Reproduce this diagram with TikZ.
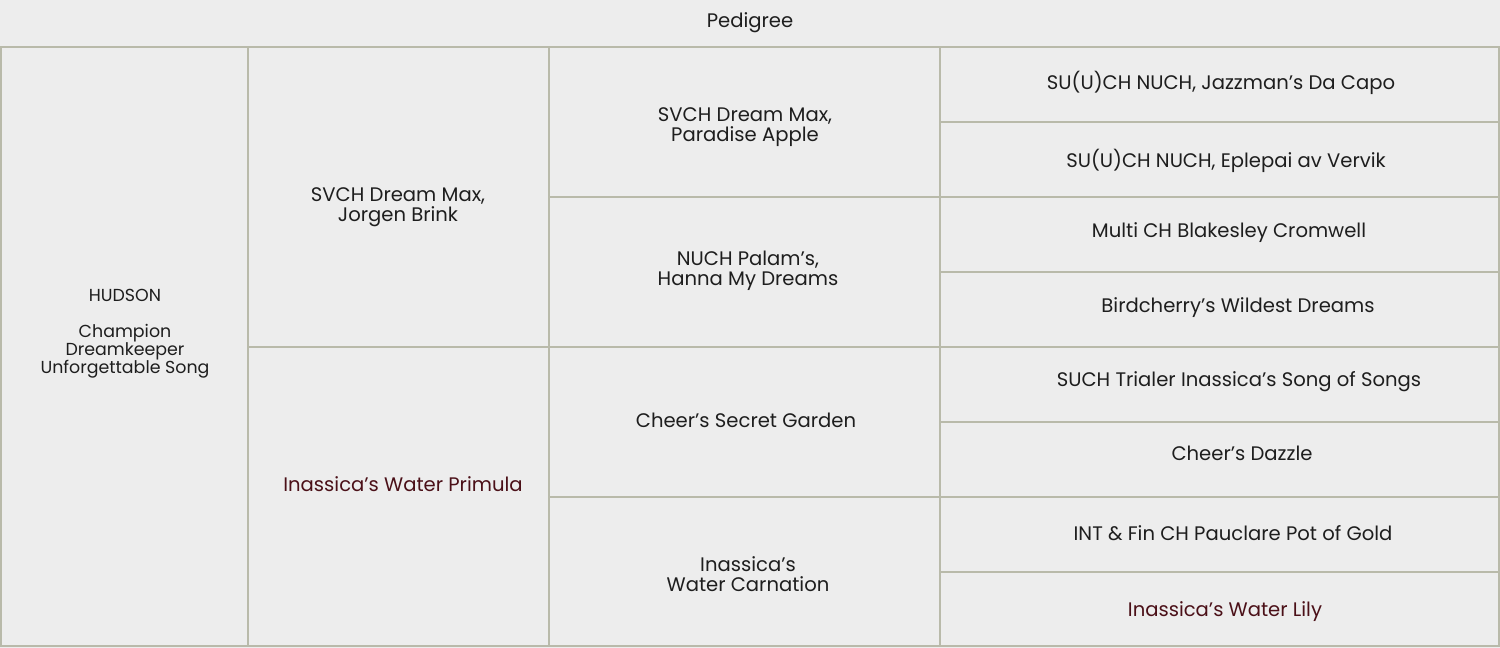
\documentclass[tikz,border=0pt]{standalone}
\usepackage{fontspec}
\setmainfont{Poppins}
\definecolor{cellbg}{HTML}{EDEDED}
\definecolor{rulegray}{HTML}{B9BAAA}
\definecolor{ink}{HTML}{1E1E1E}
\definecolor{damred}{HTML}{4B1018}
\tikzset{
  dogname/.style={text=ink, align=center, inner sep=0pt, font=\fontsize{9.8}{10}\selectfont},
  damname/.style={dogname, text=damred},
  smallname/.style={dogname, font=\fontsize{8.7}{9}\selectfont}
}
\begin{document}
\begin{tikzpicture}[x=0.5pt, y=-0.5pt, line width=1pt]
\fill[cellbg] (0,0) rectangle (1500,648);
% table lines
\draw[rulegray] (1,47) rectangle (1499,646);
\foreach \x in {248, 549, 940}
{
    \draw[rulegray] (\x,47)--(\x,646);
}
\draw[rulegray] (248,347)--(940,347);
\foreach \y in {197, 497}
{
    \draw[rulegray] (549,\y)--(940,\y);
}
\foreach \y in {122, 197, 272, 347, 422, 497, 572}
{
    \draw[rulegray] (940,\y)--(1499,\y);
}

\node[dogname] (title) at (750,23) {Pedigree};

\node[smallname] (hudson) at (125,334) {HUDSON\\[9pt]Champion\\Dreamkeeper\\Unforgettable Song};

\node[dogname] (sire) at (398,207) {SVCH Dream Max,\\ Jorgen Brink};
\node[damname] (dam) at (403,484) {Inassica's Water Primula};

\node[dogname] (ss) at (745,127) {SVCH Dream Max,\\ Paradise Apple};
\node[dogname] (sd) at (748,271) {NUCH Palam's,\\Hanna My Dreams};
\node[dogname] (ds) at (746,420) {Cheer's Secret Garden};
\node[dogname] (dd) at (748,574) {Inassica's\\Water Carnation};

\foreach \n/\x/\y/\t in {sss/1221/83/{SU(U)CH NUCH, Jazzman's Da Capo},
    ssd/1226/161/{SU(U)CH NUCH, Eplepai av Vervik},
    sds/1229/233/{Multi CH Blakesley Cromwell},
    sdd/1238/308/{Birdcherry's Wildest Dreams},
    dss/1239/382/{SUCH Trialer Inassica's Song of Songs},
    dsd/1242/453/{Cheer's Dazzle},
    dds/1233/533/{INT \& Fin CH Pauclare Pot of Gold}}
{
    \node[dogname] (\n) at (\x,\y) {\t};
}
\node[damname] (ddd) at (1225,612) {Inassica's Water Lily};
\end{tikzpicture}
\end{document}
